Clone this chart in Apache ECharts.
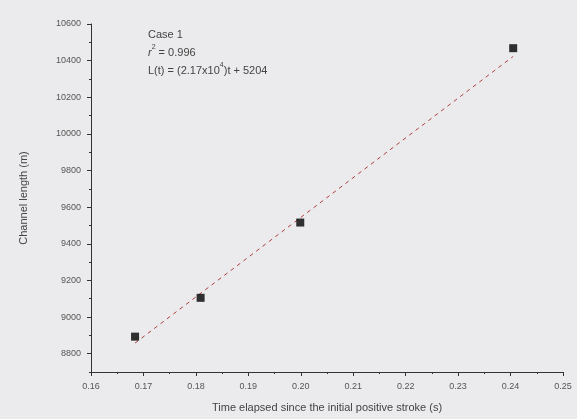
<!DOCTYPE html>
<html><head><meta charset="utf-8">
<script src="https://cdn.jsdelivr.net/npm/echarts@6/dist/echarts.min.js"></script>
<style>html,body{margin:0;padding:0;background:#ebebed;}#c{width:577px;height:419px;}</style>
</head><body><div id="c"></div>
<script>
var timeValues = [0.1684, 0.1809, 0.1999, 0.2405];
var lengthValues = [8893, 9105, 9516, 10468];
var fitTimes = [0.1684, 0.2405];
var fitLengths = [8858, 10423];
var xTicks = [0.16, 0.17, 0.18, 0.19, 0.20, 0.21, 0.22, 0.23, 0.24, 0.25];
var yTicks = [8800, 9000, 9200, 9400, 9600, 9800, 10000, 10200, 10400, 10600];
var yMinorTicks = [8700, 8900, 9100, 9300, 9500, 9700, 9900, 10100, 10300, 10500];

var chart = echarts.init(document.getElementById('c'));
var axisCol = '#333';
var labCol = '#555';
chart.setOption({
  backgroundColor: '#ebebed',
  animation: false,
  grid: {left: 91, right: 14, top: 24, bottom: 47},
  xAxis: {
    type: 'value', min: 0.16, max: 0.25, interval: 0.01,
    name: 'Time elapsed since the initial positive stroke (s)',
    nameLocation: 'middle', nameGap: 30,
    nameTextStyle: {color: '#444', fontSize: 11, fontFamily: 'Liberation Sans'},
    axisLine: {show: true, lineStyle: {color: axisCol, width: 1}},
    axisTick: {show: true, inside: false, length: 4, lineStyle: {color: axisCol}},
    minorTick: {show: true, splitNumber: 2, length: 2, lineStyle: {color: axisCol}},
    axisLabel: {color: labCol, fontSize: 9, margin: 10, fontFamily: 'Liberation Sans',
      formatter: function(v){ return v.toFixed(2); }},
    splitLine: {show: false}
  },
  yAxis: [{
    type: 'value', min: 8700, max: 10600,
    name: 'Channel length (m)', nameLocation: 'middle', nameGap: 62,
    nameTextStyle: {color: '#444', fontSize: 11, fontFamily: 'Liberation Sans'},
    axisLine: {show: true, onZero: false, lineStyle: {color: axisCol, width: 1}},
    axisTick: {show: true, inside: false, length: 4, lineStyle: {color: axisCol},
      customValues: yTicks},
    minorTick: {show: false},
    axisLabel: {color: labCol, fontSize: 9, margin: 10, fontFamily: 'Liberation Sans',
      customValues: yTicks, formatter: function(v){ return String(v); }},
    splitLine: {show: false}
  }, {
    type: 'value', min: 8700, max: 10600, position: 'left',
    axisLine: {show: false},
    axisTick: {show: true, inside: false, length: 2, lineStyle: {color: axisCol},
      customValues: yMinorTicks},
    axisLabel: {show: false, customValues: yMinorTicks},
    splitLine: {show: false}
  }],
  graphic: [{
    type: 'text', left: 148, top: 26,
    style: {
      text: 'Case 1\n{i|r}{s|2} = 0.996\nL(t) = (2.17x10{s|4})t + 5204',
      fill: '#444', fontSize: 11, lineHeight: 18, fontFamily: 'Liberation Sans',
      rich: {s: {fontSize: 7, verticalAlign: 'top', padding: [0,0,6,0], fill: '#444'}, i: {fontStyle: 'italic', fontSize: 11, fill: '#444'}}
    }
  }],
  series: [{
    type: 'line', data: fitTimes.map(function(t,i){return [t, fitLengths[i]];}),
    symbol: 'none', lineStyle: {color: '#b04040', width: 1, type: [4,4]}, z: 1
  }, {
    type: 'scatter', data: timeValues.map(function(t,i){return [t, lengthValues[i]];}),
    symbol: 'rect', symbolSize: 8, itemStyle: {color: '#000'}, z: 2
  }]
});
</script></body></html>
